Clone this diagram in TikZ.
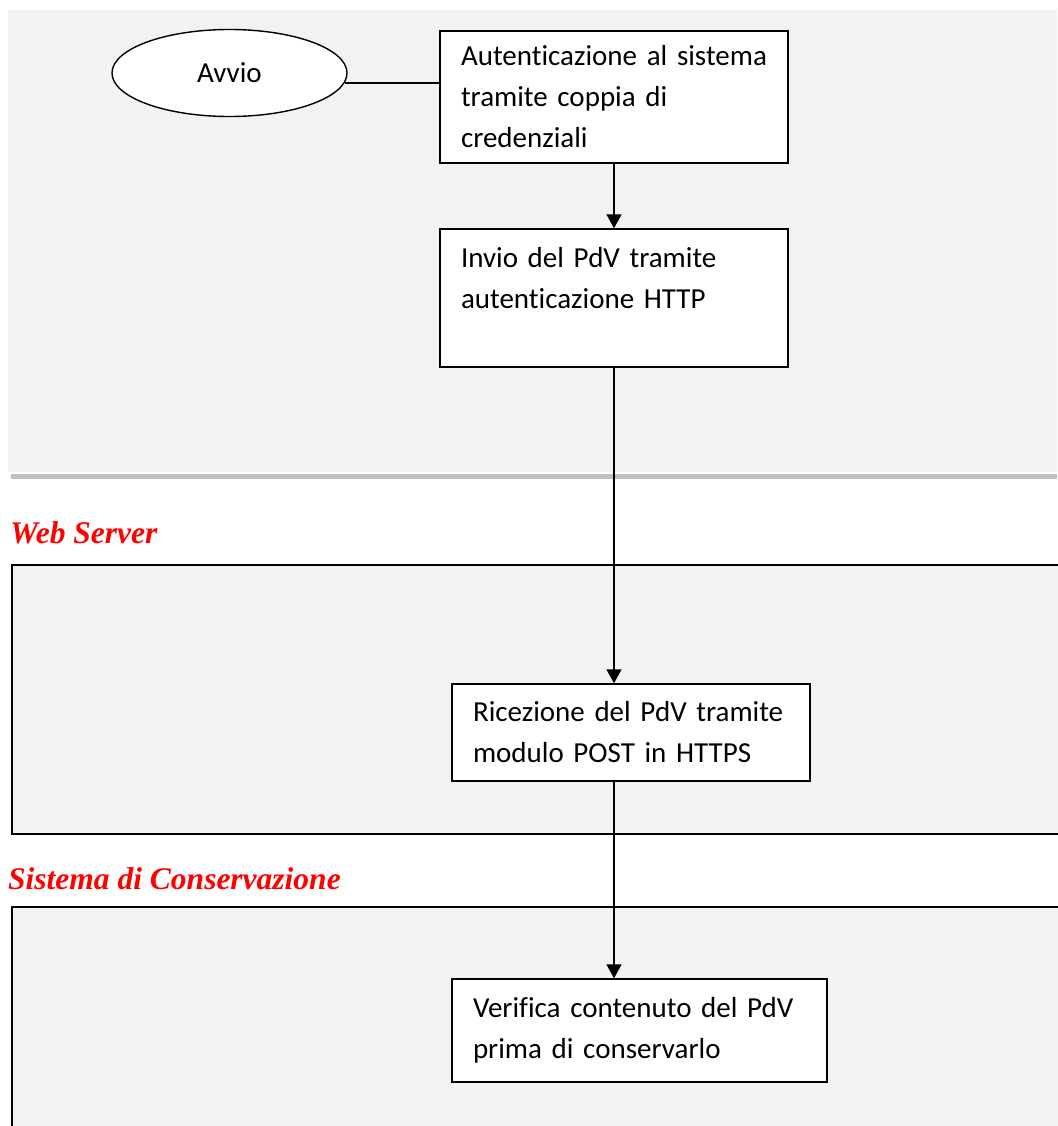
\documentclass[tikz,border=0pt]{standalone}
\usepackage{fontspec}
\setmainfont{Carlito}[Ligatures={NoCommon}]
\newfontfamily\lanefont{Liberation Serif}
\usetikzlibrary{shapes.geometric,arrows.meta}
\definecolor{PanelGray}{HTML}{F2F2F2}
\definecolor{RuleGray}{HTML}{C0C0C0}
\definecolor{LaneRed}{HTML}{FF0000}

\begin{document}
\begin{tikzpicture}[
    x=1pt, y=-1pt,
    font=\fontsize{29}{41}\selectfont,
    lane/.style={draw=black, fill=PanelGray, line width=2pt},
    lanetitle/.style={anchor=base west, inner sep=0pt, text=LaneRed, font=\fontsize{31.5}{36}\selectfont\lanefont\bfseries\itshape},
    stepbox/.style={draw=black, fill=white, line width=1.4pt, align=left, inner xsep=21pt, inner ysep=0pt, text width=#1},
    flow/.style={line width=1.4pt, -{Triangle[width=15pt, length=14pt]}}
]
  \useasboundingbox (0,0) rectangle (1057,1126);
  \fill[white] (0,0) rectangle (1057,1126);

  % -------------------------------------------------------------
  % CORSIE (UTENTE, WEB SERVER, SISTEMA DI CONSERVAZIONE)
  % -------------------------------------------------------------
  \fill[PanelGray] (8,10) rectangle (1057,472);
  \fill[RuleGray] (11,473.5) rectangle (1057,478.5);

  \node[lanetitle] (webtitle) at (10,543) {Web Server};
  \draw[lane] (12,565) rectangle (1070,834);

  \node[lanetitle] (constitle) at (8,889) {Sistema di Conservazione};
  \draw[lane] (12,907) rectangle (1070,1140);

  % -------------------------------------------------------------
  % PASSI DEL FLUSSO
  % -------------------------------------------------------------
  \node[draw, ellipse, fill=white, line width=1.4pt, minimum width=235pt, minimum height=87pt, inner sep=0pt] (start) at (229.5,73) {Avvio};

  \node[stepbox=306pt, minimum height=132pt] (auth) at (614,97) {Autenticazione al sistema\\tramite coppia di\\credenziali};
  \node[stepbox=306pt, minimum height=138pt] (send) at (614,298) {Invio del PdV tramite\\autenticazione HTTP\\\mbox{}};
  \node[stepbox=316pt, minimum height=97pt] (recv) at (631,732.5) {Ricezione del PdV tramite\\modulo POST in HTTPS};
  \node[stepbox=333pt, minimum height=103pt] (check) at (639.5,1030.5) {Verifica contenuto del PdV\\prima di conservarlo};

  % connettori
  \draw[line width=1.4pt] (start.-5) -- (start.-5 -| auth.west);
  \draw[flow] (auth.south) -- (send.north);
  \draw[flow] (send.south) -- (send.south |- recv.north);
  \draw[flow] (send.south |- recv.south) -- (send.south |- check.north);

\end{tikzpicture}
\end{document}
